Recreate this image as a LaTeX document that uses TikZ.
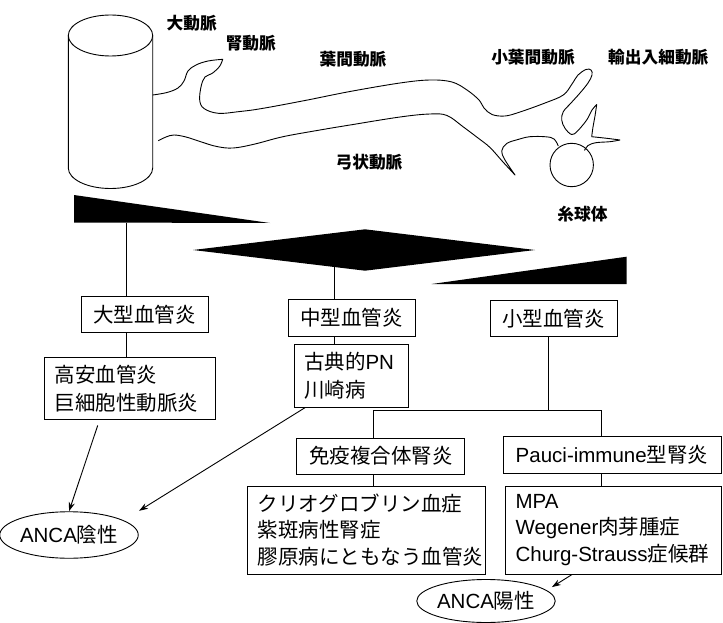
\documentclass[tikz,border=0pt]{standalone}
\usepackage{fontspec}
\setmainfont{Noto Sans CJK JP}
\newfontfamily\latin{Liberation Sans}
\usetikzlibrary{shapes.geometric,arrows.meta}

\tikzset{
  box/.style={draw, line width=.9pt, inner xsep=10pt, inner ysep=0pt,
    font=\fontsize{20.5}{28}\selectfont},
  kind/.style={box, minimum width=127pt, minimum height=36.5pt},
  list/.style={box, align=left},
  anca/.style={draw, ellipse, line width=.9pt, inner sep=0pt,
    minimum width=118pt, font=\fontsize{20.5}{24}\selectfont},
  tag/.style={font=\fontsize{16.7}{20}\selectfont\bfseries},
  vessel/.style={line width=.9pt},
  link/.style={line width=.9pt},
  pointer/.style={line width=.9pt, -{Stealth[length=9pt,width=6pt]}},
}

\begin{document}
\begin{tikzpicture}[x=1pt, y=-1pt]
  \useasboundingbox (0,0) rectangle (723,623);

  % aorta
  \draw[vessel] (110.5,35.5) ellipse [x radius=42.2pt, y radius=20.5pt];
  \draw[vessel] (68.3,35.5) -- (68.3,168)
        arc [start angle=180, end angle=360, x radius=42.2pt, y radius=20.5pt]
        -- (152.7,35.5);

  % renal / interlobar / interlobular arteries, upper wall
  \draw[vessel, line join=round]
    plot[smooth, tension=.6] coordinates {(152.7,95) (167,92.5) (178,88) (184,81)
      (188,71) (196,65) (208,61) (222.7,59.3)}
    -- plot[smooth, tension=.6] coordinates {(222.7,59.3) (219.5,66.5) (212,73.5)
      (205,77) (201.2,86) (199.7,100) (204,108.5) (218.3,113.3) (240,111.5)
      (262,108.5) (305,100.5) (350,91.5) (400,83) (430,80) (452,82) (467,90)
      (479,100) (484,108) (492,114.5) (505,116) (520,112) (545,103) (563.3,95)
      (572,84) (578,75) (586,69.5) (591,70) (592,75) (588,83) (580,93) (571,103)
      (563.3,111.7) (561.7,120) (565,128.3) (571.7,134.5) (577.5,131)
      (586.7,120) (592,110) (596.7,104.5)}
    -- plot[smooth, tension=.6] coordinates {(596.7,104.5) (595,116) (593,127)
      (591.7,136.7)}
    -- plot[smooth, tension=.6] coordinates {(591.7,136.7) (606.7,138.3) (620,140)}
    -- plot[smooth, tension=.6] coordinates {(620,140) (610,141.7) (596,142.7)
      (588,145.5) (584.5,150.5)};

  % arcuate artery, lower wall
  \draw[vessel, line join=round]
    plot[smooth, tension=.6] coordinates {(158.3,140.7) (166,137) (174,135)
      (186,137) (200,141.5) (216.7,146.5) (233.3,148) (255,144) (283,136.7)
      (320,130) (350,125) (400,117) (430,114) (447,115.5) (463,126.7) (478,138)
      (490,147.5) (503,162) (515,175)}
    -- plot[smooth, tension=.6] coordinates {(515,175) (505,160) (501.7,151)
      (506.7,143.5) (518,139.5) (530,136.7) (546,136.8) (554,139) (558.3,146)};

  % glomerulus
  \draw[vessel] (571.7,165) circle [radius=21.7pt];

  \node[tag] (aorta) at (191.7,23.3) {大動脈};
  \node[tag] (renal) at (250.8,43.3) {腎動脈};
  \node[tag] (interlobar) at (353,59) {葉間動脈};
  \node[tag] (interlobular) at (533,57.5) {小葉間動脈};
  \node[tag] (arteriole) at (658.3,57.5) {輸出入細動脈};
  \node[tag] (arcuate) at (369,162.5) {弓状動脈};
  \node[tag] (glomerulus) at (582.5,214) {糸球体};

  % size ranges
  \fill (74,195) -- (74,222.5) -- (270,223) -- cycle;
  \fill (193,250) -- (365,229.3) -- (535,250) -- (365,270.7) -- cycle;
  \fill (431.7,284) -- (626.7,256.7) -- (626.7,284) -- cycle;

  \node[kind] (large) at (144.5,314.5) {大型血管炎};
  \node[kind] (medium) at (351.7,317.7) {中型血管炎};
  \node[kind] (small) at (553.7,318.3) {小型血管炎};

  \node[list, text width=151pt, minimum height=62pt] (takayasu) at (130,388.3)
    {高安血管炎\\巨細胞性動脈炎};
  \node[list, text width=94pt, minimum height=63pt] (pn) at (351,375.5)
    {古典的{\latin PN}\\川崎病};
  \node[box, minimum width=168pt, minimum height=36pt] (immune) at (380.8,456)
    {免疫複合体腎炎};
  \node[box, minimum width=218pt, minimum height=36.5pt] (pauci) at (612,455)
    {{\latin Pauci-immune}型腎炎};
  \node[list, text width=218pt, minimum height=88pt,
        font=\fontsize{20.5}{26.3}\selectfont] (cryo) at (366.5,530)
    {クリオグロブリン血症\\紫斑病性腎症\\膠原病にともなう血管炎};
  \node[list, text width=196pt, minimum height=88pt,
        font=\fontsize{20.5}{26.3}\selectfont] (mpa) at (613.6,530)
    {\mbox{\latin MPA}\\\mbox{{\latin Wegener}肉芽腫症}\\\mbox{{\latin Churg-Strauss}症候群}};

  \node[anca, minimum height=46.5pt] (neg) at (69,535) {{\latin ANCA}陰性};
  \node[anca, minimum height=43pt] (pos) at (486,601) {{\latin ANCA}陽性};

  % tree
  \coordinate (lt) at (126.7,223);
  \coordinate (mt) at (334.5,267);
  \coordinate (fork) at (548.3,410.7);
  \coordinate (fl) at (373.5,410.7);
  \coordinate (fr) at (601,410.7);
  \draw[link] (lt) -- (lt |- large.north);
  \draw[link] (large.south -| lt) -- (lt |- takayasu.north);
  \draw[link] (mt) -- (mt |- medium.north);
  \draw[link] (medium.south -| mt) -- (mt |- pn.north);
  \draw[link] (small.south -| fork) -- (fork);
  \draw[link] (fl |- immune.north) -- (fl) -- (fr) -- (fr |- pauci.north);
  \draw[link] (immune.south -| fl) -- (fl |- cryo.north);
  \draw[link] (pauci.south -| fr) -- (fr |- mpa.north);

  \draw[pointer, shorten <=6pt] (takayasu.226) -- (neg.north);
  \draw[pointer, shorten >=18pt] (pn.215) -- (neg.15);
  \draw[pointer, shorten >=6pt] (mpa.227) -- (pos.10);
\end{tikzpicture}
\end{document}
